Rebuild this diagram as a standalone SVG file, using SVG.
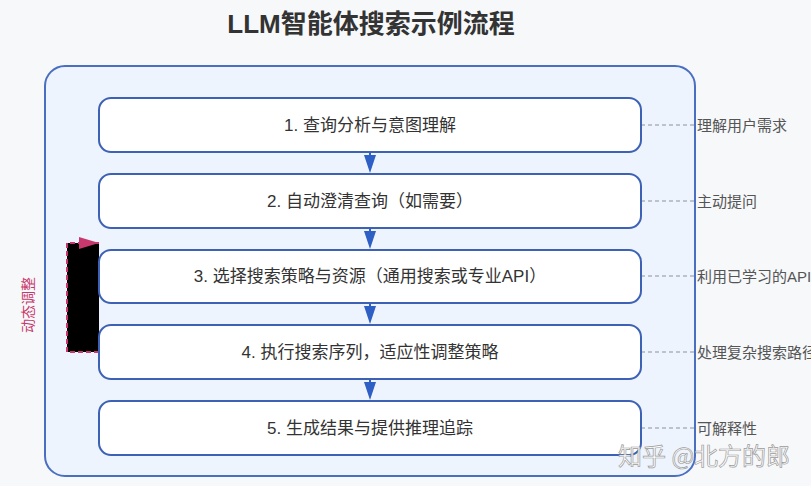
<svg xmlns="http://www.w3.org/2000/svg" width="811" height="486" viewBox="0 0 811 486">
<defs>
<style>
.box{fill:#ffffff;stroke:#3d62b5;stroke-width:2}
.lbl{font-family:"Liberation Sans","Noto Sans CJK SC",sans-serif;font-size:17px;fill:#333;text-anchor:middle;dominant-baseline:central}
.note{font-family:"Liberation Sans","Noto Sans CJK SC",sans-serif;font-size:15px;fill:#555;dominant-baseline:central}
.flow{stroke:#2e5fc4;stroke-width:2;fill:none}
.head{fill:#2e5fc4}
.dash{stroke:#8a8fa0;stroke-width:1.2;stroke-dasharray:4 3;fill:none}
</style>
<marker id="ah2" viewBox="0 0 20 12" refX="20" refY="6" markerWidth="20" markerHeight="12" markerUnits="userSpaceOnUse" orient="auto">
<path d="M0,0 L20,6 L0,12 Z" fill="#c8386c"/>
</marker>
</defs>
<rect x="0" y="0" width="811" height="486" fill="#f6f8fa"/>
<text x="371" y="24" font-family="'Liberation Sans','Noto Sans CJK SC',sans-serif" font-size="26" font-weight="bold" fill="#333" text-anchor="middle" dominant-baseline="central">LLM智能体搜索示例流程</text>
<g id="container">
<rect x="45" y="66" width="650" height="410" rx="20" fill="#eef4fd" stroke="#4a6fc0" stroke-width="2"/>
</g>
<g id="connectors">
<line class="flow" x1="370" y1="152" x2="370" y2="164"/>
<path class="head" d="M364,155 L376,155 L370,173 Z"/>
<line class="flow" x1="370" y1="228" x2="370" y2="240"/>
<path class="head" d="M364,231 L376,231 L370,249 Z"/>
<line class="flow" x1="370" y1="303" x2="370" y2="315"/>
<path class="head" d="M364,306 L376,306 L370,324 Z"/>
<line class="flow" x1="370" y1="379" x2="370" y2="391"/>
<path class="head" d="M364,382 L376,382 L370,400 Z"/>
<line class="dash" x1="641" y1="125" x2="695" y2="125"/>
<line class="dash" x1="641" y1="201" x2="695" y2="201"/>
<line class="dash" x1="641" y1="276" x2="695" y2="276"/>
<line class="dash" x1="641" y1="352" x2="695" y2="352"/>
<line class="dash" x1="641" y1="428" x2="695" y2="428"/>
<path d="M99,352 L67,352 L67,243 L99,243" fill="#000" stroke="#c8386c" stroke-width="2" stroke-dasharray="5 3" marker-end="url(#ah2)"/>
</g>
<g id="n1"><rect class="box" x="99" y="98" width="542" height="54" rx="12"/><text class="lbl" x="370" y="125">1. 查询分析与意图理解</text></g>
<g id="n2"><rect class="box" x="99" y="174" width="542" height="54" rx="12"/><text class="lbl" x="370" y="201">2. 自动澄清查询（如需要）</text></g>
<g id="n3"><rect class="box" x="99" y="250" width="542" height="53" rx="12"/><text class="lbl" x="370" y="276">3. 选择搜索策略与资源（通用搜索或专业API）</text></g>
<g id="n4"><rect class="box" x="99" y="325" width="542" height="54" rx="12"/><text class="lbl" x="370" y="352">4. 执行搜索序列，适应性调整策略</text></g>
<g id="n5"><rect class="box" x="99" y="401" width="542" height="54" rx="12"/><text class="lbl" x="370" y="428">5. 生成结果与提供推理追踪</text></g>
<g id="notes">
<text class="note" x="697" y="125">理解用户需求</text>
<text class="note" x="697" y="201">主动提问</text>
<text class="note" x="697" y="276">利用已学习的API</text>
<text class="note" x="697" y="352">处理复杂搜索路径</text>
<text class="note" x="697" y="428">可解释性</text>
</g>
<text x="28" y="305" font-family="'Liberation Sans','Noto Sans CJK SC',sans-serif" font-size="14" fill="#c8386c" text-anchor="middle" dominant-baseline="central" transform="rotate(-90 28 305)">动态调整</text>
<text x="618" y="454" font-family="'Noto Sans CJK SC',sans-serif" font-size="24" fill="#ffffff" stroke="#9a9a9a" stroke-width="0.7" dominant-baseline="central">知乎 @北方的郎</text>
</svg>
